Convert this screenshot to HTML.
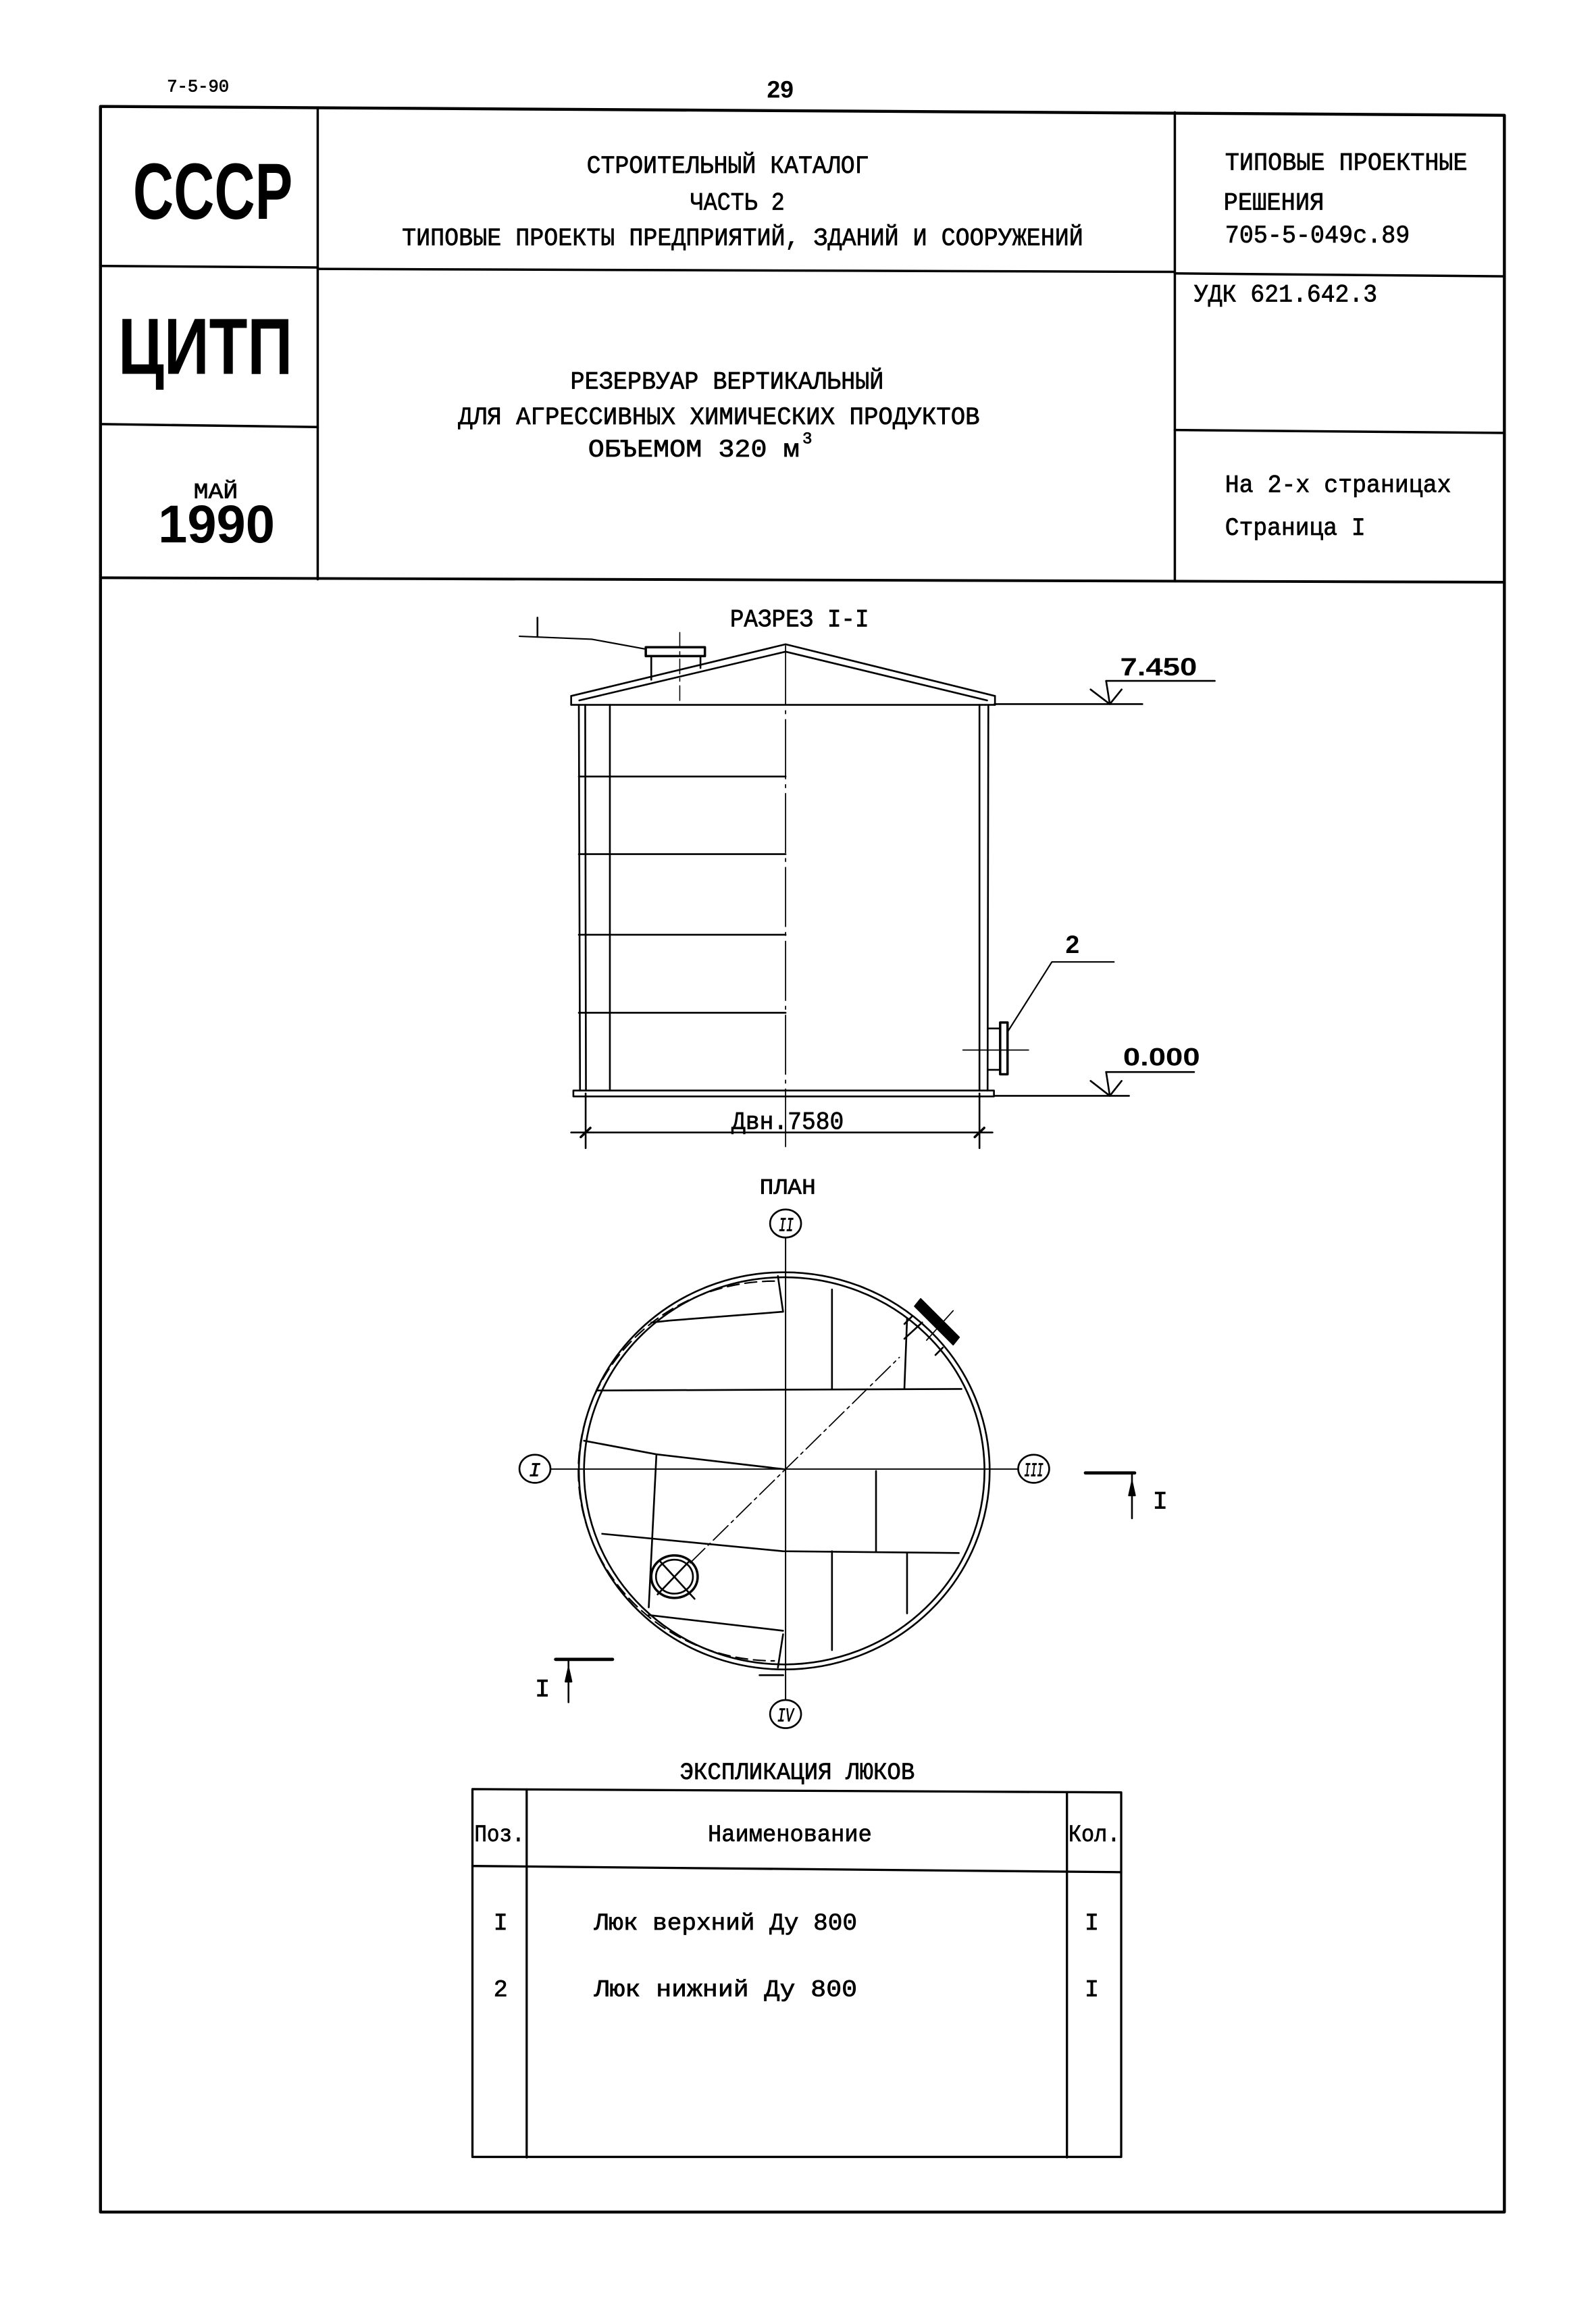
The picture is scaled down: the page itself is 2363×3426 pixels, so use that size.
<!DOCTYPE html>
<html><head><meta charset="utf-8"><style>
html,body{margin:0;padding:0;background:#fff;}
svg{display:block;}
text{font-family:"Liberation Mono",monospace;fill:#000;stroke:#000;stroke-width:0.35;}
.b{font-family:"Liberation Sans",sans-serif;font-weight:bold;stroke-width:0;}
</style></head><body>
<svg width="2363" height="3426" viewBox="0 0 1080 1566" preserveAspectRatio="none" xmlns="http://www.w3.org/2000/svg">
<g stroke="#000" fill="none" stroke-linecap="round" stroke-linejoin="round">
<polyline points="68,72 1018,78 1018,1497 68,1497 68,72" stroke-width="2"/>
<line x1="215" y1="73" x2="215" y2="392" stroke-width="1.6"/>
<line x1="795" y1="76" x2="795" y2="392" stroke-width="1.6"/>
<line x1="68" y1="180" x2="215" y2="181" stroke-width="1.6"/>
<line x1="215" y1="182" x2="795" y2="184" stroke-width="1.6"/>
<line x1="795" y1="185" x2="1018" y2="187" stroke-width="1.6"/>
<line x1="68" y1="287" x2="215" y2="289" stroke-width="1.6"/>
<line x1="795" y1="291" x2="1018" y2="293" stroke-width="1.6"/>
<line x1="68" y1="391" x2="1018" y2="394" stroke-width="1.8"/>

<g stroke-width="1.2">
<polyline points="386.5,471 531.6,436 673.3,471"/>
<polyline points="392,474 531.6,441 668,474"/>
<line x1="386.5" y1="471" x2="386.5" y2="477"/>
<line x1="673.3" y1="471" x2="673.3" y2="477"/>
<line x1="386.5" y1="477" x2="673.3" y2="477"/>
<line x1="391.7" y1="477" x2="392.5" y2="738"/>
<line x1="396" y1="477" x2="396.5" y2="738"/>
<line x1="412.7" y1="477" x2="412.7" y2="738"/>
<line x1="662.8" y1="477" x2="662.8" y2="738"/>
<line x1="668.8" y1="477" x2="668.3" y2="738"/>
<line x1="391.7" y1="525.5" x2="531.6" y2="525.5"/>
<line x1="391.7" y1="578" x2="531.6" y2="578"/>
<line x1="391.7" y1="632.6" x2="531.6" y2="632.6"/>
<line x1="391.7" y1="685.4" x2="531.6" y2="685.4"/>
<rect x="388" y="738" width="284.6" height="4"/>
<line x1="531.6" y1="437" x2="531.6" y2="776" stroke-width="0.8" stroke-dasharray="40,4,2,4"/>
<rect x="437" y="438" width="40" height="6" stroke-width="1.6"/>
<line x1="440.7" y1="444" x2="440.7" y2="460"/>
<line x1="474" y1="444" x2="474" y2="452"/>
<line x1="460" y1="428" x2="460" y2="476" stroke-width="0.7" stroke-dasharray="10,3,2,3"/>
<polyline points="351.5,430.6 400.5,432.6 437,439.3" stroke-width="1"/>
<line x1="363.7" y1="418" x2="363.7" y2="431" stroke-width="1.2"/>
<line x1="668.8" y1="696" x2="676.8" y2="696"/>
<line x1="668.8" y1="724" x2="676.8" y2="724"/>
<rect x="676.8" y="692" width="5" height="35" stroke-width="1.6"/>
<line x1="651.6" y1="710.6" x2="696" y2="710.6" stroke-width="0.8"/>
<polyline points="682,698 711.8,651 753.8,651" stroke-width="1"/>
<line x1="673" y1="476.5" x2="773" y2="476.5"/>
<line x1="748.5" y1="460.8" x2="822" y2="460.8"/>
<polyline points="738,466.6 751,476.5 759,466.6"/>
<line x1="748.5" y1="460.8" x2="751" y2="476.5"/>
<line x1="672.6" y1="741.6" x2="764" y2="741.6"/>
<line x1="748.5" y1="725.5" x2="808" y2="725.5"/>
<polyline points="738,731.5 751,741.6 759,731.5"/>
<line x1="748.5" y1="725.5" x2="751" y2="741.6"/>
<line x1="386.5" y1="766.4" x2="671.6" y2="766.4"/>
<line x1="396.3" y1="740" x2="396.3" y2="777"/>
<line x1="662.8" y1="740" x2="662.8" y2="777"/>
<line x1="393" y1="769.5" x2="399.5" y2="763.3" stroke-width="1.6"/>
<line x1="659.6" y1="769.5" x2="666" y2="763.3" stroke-width="1.6"/>
</g>

<g stroke-width="1.2">
<ellipse cx="530.7" cy="995.4" rx="139" ry="134.4"/>
<ellipse cx="530.7" cy="995.4" rx="135.5" ry="131"/>
<path d="M 524,867 A 128 124 0 0 0 524,1124" stroke-dasharray="8,4" stroke-width="1"/>
<line x1="531.6" y1="838" x2="531.6" y2="1150" stroke-width="0.9"/>
<line x1="372.5" y1="994.2" x2="689" y2="994.2" stroke-width="0.9"/>
<line x1="467" y1="1057.7" x2="608.6" y2="918.6" stroke-width="0.8" stroke-dasharray="14,3,2,3"/>
<ellipse cx="531.6" cy="828" rx="10.5" ry="9.5"/>
<ellipse cx="362" cy="994" rx="10.5" ry="9.5"/>
<ellipse cx="699.5" cy="994" rx="10.5" ry="9.5"/>
<ellipse cx="531.6" cy="1160" rx="10.5" ry="9.5"/>
<polyline points="440.7,895 453,893.7 529.9,887.7"/>
<line x1="526.4" y1="863.6" x2="529.9" y2="887.7"/>
<line x1="563" y1="872.7" x2="563" y2="939.6"/>
<line x1="613.8" y1="892.4" x2="612" y2="939.6"/>
<line x1="404" y1="941" x2="650.6" y2="940"/>
<polyline points="395.2,975 444.2,984.2 529.9,994.2"/>
<line x1="444.2" y1="984.2" x2="439" y2="1087.8"/>
<polyline points="407.5,1038 529.9,1049.8 648.8,1051"/>
<line x1="592.8" y1="995.5" x2="592.8" y2="1049.8"/>
<line x1="563" y1="1049.8" x2="563" y2="1116.7"/>
<line x1="613.8" y1="1051" x2="613.8" y2="1091.8"/>
<line x1="439" y1="1093" x2="529.9" y2="1103.6"/>
<line x1="529.9" y1="1106" x2="526.4" y2="1128.5"/>
<line x1="514" y1="1133.7" x2="530" y2="1133.7"/>
<ellipse cx="456.4" cy="1067" rx="15.7" ry="14.4" stroke-width="1.6"/>
<ellipse cx="456.4" cy="1067" rx="12.5" ry="11.5"/>
<line x1="447" y1="1057" x2="470" y2="1082"/>
<line x1="466" y1="1057" x2="445" y2="1079"/>
<polygon points="619,884 623,879 649,905 645,910" fill="#000" stroke-width="1"/>
<line x1="617" y1="891" x2="612" y2="896"/>
<line x1="638" y1="912" x2="633" y2="917"/>
<line x1="612" y1="906" x2="624" y2="895"/>
<line x1="627" y1="907" x2="645" y2="887" stroke-width="0.8"/>
<line x1="734.5" y1="996.8" x2="767.8" y2="996.8" stroke-width="2.2"/>
<line x1="766" y1="996.8" x2="766" y2="1027.5"/>
<polygon points="766,1003 764,1012 768,1012" fill="#000"/>
<line x1="376" y1="1123" x2="414.5" y2="1123" stroke-width="2.2"/>
<line x1="384.7" y1="1123" x2="384.7" y2="1152"/>
<polygon points="384.7,1129 382.7,1138 386.7,1138" fill="#000"/>
</g>

<g stroke-width="1.5">
<polyline points="319.7,1210.8 758.7,1213 758.7,1459.7 319.7,1459.7 319.7,1210.8"/>
<line x1="356.4" y1="1211" x2="356.4" y2="1460"/>
<line x1="722" y1="1213" x2="722" y2="1460"/>
<line x1="319.7" y1="1262.8" x2="758.7" y2="1267"/>
</g>
</g>

<text x="113" y="62" font-size="12" textLength="42" lengthAdjust="spacingAndGlyphs">7-5-90</text>
<text class="b" x="519" y="66" font-size="16" textLength="18" lengthAdjust="spacingAndGlyphs">29</text>
<text class="b" x="90" y="148" font-size="54" textLength="108" lengthAdjust="spacingAndGlyphs">СССР</text>
<text class="b" x="80" y="253" font-size="54" textLength="118" lengthAdjust="spacingAndGlyphs">ЦИТП</text>
<text x="131" y="337" font-size="15" textLength="30" lengthAdjust="spacingAndGlyphs">МАЙ</text>
<text class="b" x="107" y="367" font-size="36" textLength="79" lengthAdjust="spacingAndGlyphs">1990</text>

<text x="397" y="117" font-size="17" textLength="191" lengthAdjust="spacingAndGlyphs">СТРОИТЕЛЬНЫЙ КАТАЛОГ</text>
<text x="467" y="142" font-size="17" textLength="64" lengthAdjust="spacingAndGlyphs">ЧАСТЬ 2</text>
<text x="272" y="166" font-size="17" textLength="461" lengthAdjust="spacingAndGlyphs">ТИПОВЫЕ ПРОЕКТЫ ПРЕДПРИЯТИЙ, ЗДАНИЙ И СООРУЖЕНИЙ</text>
<text x="386" y="263" font-size="17" textLength="212" lengthAdjust="spacingAndGlyphs">РЕЗЕРВУАР ВЕРТИКАЛЬНЫЙ</text>
<text x="310" y="287" font-size="17" textLength="353" lengthAdjust="spacingAndGlyphs">ДЛЯ АГРЕССИВНЫХ ХИМИЧЕСКИХ ПРОДУКТОВ</text>
<text x="398" y="309" font-size="17" textLength="143" lengthAdjust="spacingAndGlyphs">ОБЪЕМОМ 320 м</text>
<text x="543" y="300" font-size="11">3</text>

<text x="829" y="115" font-size="17" textLength="164" lengthAdjust="spacingAndGlyphs">ТИПОВЫЕ ПРОЕКТНЫЕ</text>
<text x="828" y="142" font-size="17" textLength="68" lengthAdjust="spacingAndGlyphs">РЕШЕНИЯ</text>
<text x="829" y="164" font-size="17" textLength="125" lengthAdjust="spacingAndGlyphs">705-5-049с.89</text>
<text x="808" y="204" font-size="17" textLength="124" lengthAdjust="spacingAndGlyphs">УДК 621.642.3</text>
<text x="829" y="333" font-size="17" textLength="153" lengthAdjust="spacingAndGlyphs">На 2-х страницах</text>
<text x="829" y="362" font-size="17" textLength="95" lengthAdjust="spacingAndGlyphs">Страница I</text>

<text x="494" y="424" font-size="17" textLength="94" lengthAdjust="spacingAndGlyphs">РАЗРЕЗ I-I</text>
<text x="758" y="457" font-size="17" class="b" textLength="52" lengthAdjust="spacingAndGlyphs">7.450</text>
<text x="721" y="645" font-size="17" class="b">2</text>
<text x="760" y="721" font-size="17" class="b" textLength="52" lengthAdjust="spacingAndGlyphs">0.000</text>
<text x="495" y="764" font-size="17" textLength="76" lengthAdjust="spacingAndGlyphs">Двн.7580</text>
<text x="514" y="808" font-size="15" textLength="38" lengthAdjust="spacingAndGlyphs">ПЛАН</text>
<text x="527" y="833" font-size="13" font-style="italic" textLength="10" lengthAdjust="spacingAndGlyphs">II</text>
<text x="358" y="999" font-size="13" font-style="italic">I</text>
<text x="693" y="999" font-size="13" font-style="italic" textLength="13" lengthAdjust="spacingAndGlyphs">III</text>
<text x="526" y="1165" font-size="13" font-style="italic" textLength="11" lengthAdjust="spacingAndGlyphs">IV</text>
<text x="780" y="1021" font-size="17">I</text>
<text x="362" y="1148" font-size="17">I</text>

<text x="460" y="1204" font-size="16" textLength="159" lengthAdjust="spacingAndGlyphs">ЭКСПЛИКАЦИЯ ЛЮКОВ</text>
<text x="321" y="1246" font-size="16" textLength="34" lengthAdjust="spacingAndGlyphs">Поз.</text>
<text x="479" y="1246" font-size="16" textLength="111" lengthAdjust="spacingAndGlyphs">Наименование</text>
<text x="723" y="1246" font-size="16" textLength="35" lengthAdjust="spacingAndGlyphs">Кол.</text>
<text x="334" y="1306" font-size="16">I</text>
<text x="402" y="1306" font-size="16" textLength="178" lengthAdjust="spacingAndGlyphs">Люк верхний  Ду 800</text>
<text x="734" y="1306" font-size="16">I</text>
<text x="334" y="1351" font-size="16">2</text>
<text x="402" y="1351" font-size="16" textLength="178" lengthAdjust="spacingAndGlyphs">Люк нижний   Ду 800</text>
<text x="734" y="1351" font-size="16">I</text>
</svg>
</body></html>
